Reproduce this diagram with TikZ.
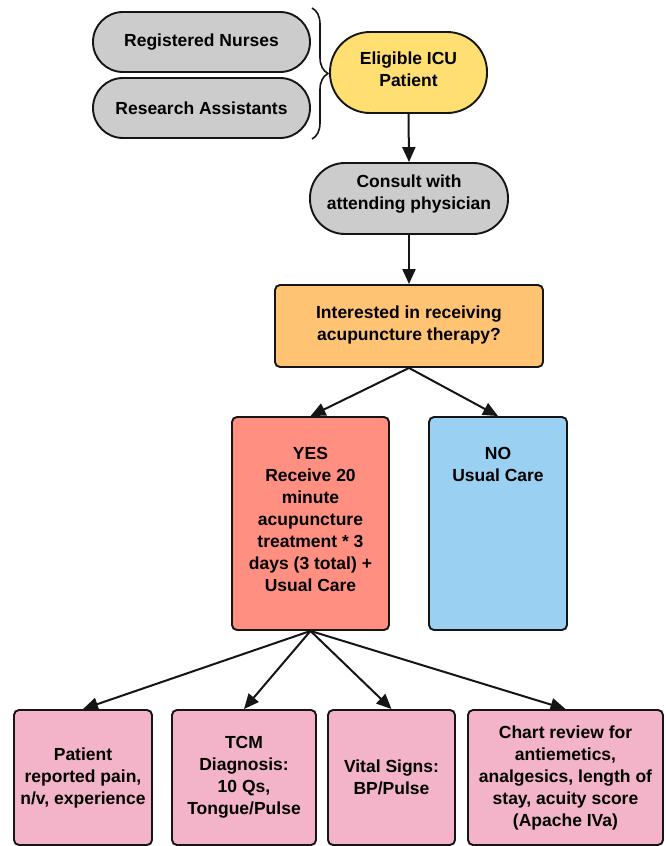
\documentclass[tikz,border=0pt]{standalone}
\usepackage{fontspec}
\setmainfont{Liberation Sans}
\usetikzlibrary{arrows.meta,decorations.pathreplacing}

\definecolor{linec}{HTML}{151515}
\definecolor{grayfill}{HTML}{CCCCCC}
\definecolor{yellowfill}{HTML}{FFDF71}
\definecolor{orangefill}{HTML}{FFC374}
\definecolor{salmonfill}{HTML}{FF8F80}
\definecolor{bluefill}{HTML}{9AD0F2}
\definecolor{pinkfill}{HTML}{F3B3C8}

\tikzset{
  base/.style={draw=linec, line width=1.9pt, align=center, inner sep=0pt, text=black},
  pill/.style={base, rounded corners=#1},
  boxnode/.style={base, rounded corners=5pt},
  inner text/.style={align=center, inner sep=0pt, anchor=center, yshift=#1},
  arr/.style={draw=linec, line width=2pt, -{Triangle[length=15pt,width=13pt]}},
}

\begin{document}
\begin{tikzpicture}[x=1pt, y=1pt, font=\fontsize{17.5}{22}\selectfont\bfseries]
\useasboundingbox (0,0) rectangle (666,-846);

% staff who screen patients
\node[pill=30pt, fill=grayfill, minimum width=217pt, minimum height=60pt] (rn) at (201.5,-42) {Registered Nurses};
\node[pill=30pt, fill=grayfill, minimum width=217pt, minimum height=60pt] (ra) at (201.5,-108) {Research Assistants};
\draw[draw=linec, line width=1.6pt, decorate, decoration={brace, amplitude=16pt, aspect=0.5}]
  (312,-8) -- (312,-139);

% main flow
\node[pill=40pt, fill=yellowfill, minimum width=157pt, minimum height=81pt,
  label={[inner text=3pt]center:{Eligible ICU\\Patient}}] (el) at (408.5,-72.5) {};
\node[pill=35pt, fill=grayfill, minimum width=198pt, minimum height=71pt,
  label={[inner text=4pt]center:{Consult with\\attending physician}}] (cons) at (409,-198.5) {};
\node[boxnode, fill=orangefill, minimum width=268pt, minimum height=82pt,
  label={[inner text=1pt]center:{Interested in receiving\\acupuncture therapy?}}] (int) at (409,-326) {};

\node[boxnode, fill=salmonfill, minimum width=157pt, minimum height=213pt,
  label={[inner text=4pt]center:{YES\\Receive 20\\minute\\acupuncture\\treatment * 3\\days (3 total) +\\Usual Care}}] (yes) at (310.5,-523.5) {};
\node[boxnode, fill=bluefill, minimum width=138pt, minimum height=213pt,
  label={[align=center, inner sep=0pt, anchor=north, yshift=-31pt]north:{NO\\Usual Care}}] (no) at (498,-523.5) {};

% outcome measures
\node[boxnode, fill=pinkfill, minimum width=138pt, minimum height=135pt] (m1) at (83,-777.5) {Patient\\reported pain,\\n/v, experience};
\node[boxnode, fill=pinkfill, minimum width=144pt, minimum height=135pt] (m2) at (244,-777.5) {TCM\\Diagnosis:\\10 Qs,\\Tongue/Pulse};
\node[boxnode, fill=pinkfill, minimum width=127pt, minimum height=135pt] (m3) at (391.5,-777.5) {Vital Signs:\\BP/Pulse};
\node[boxnode, fill=pinkfill, minimum width=195pt, minimum height=135pt] (m4) at (565.5,-777.5) {Chart review for\\antiemetics,\\analgesics, length of\\stay, acuity score\\(Apache IVa)};

% connectors
\draw[arr] (el.south) -- (cons.north);
\draw[arr] (cons.south) -- (int.north);
\draw[arr] (int.south) -- (yes.north);
\draw[arr] (int.south) -- (no.north);
\draw[arr] (yes.south) -- (m1.north);
\draw[arr] (yes.south) -- (m2.north);
\draw[arr] (yes.south) -- (m3.north);
\draw[arr] (yes.south) -- (m4.north);
\end{tikzpicture}
\end{document}
